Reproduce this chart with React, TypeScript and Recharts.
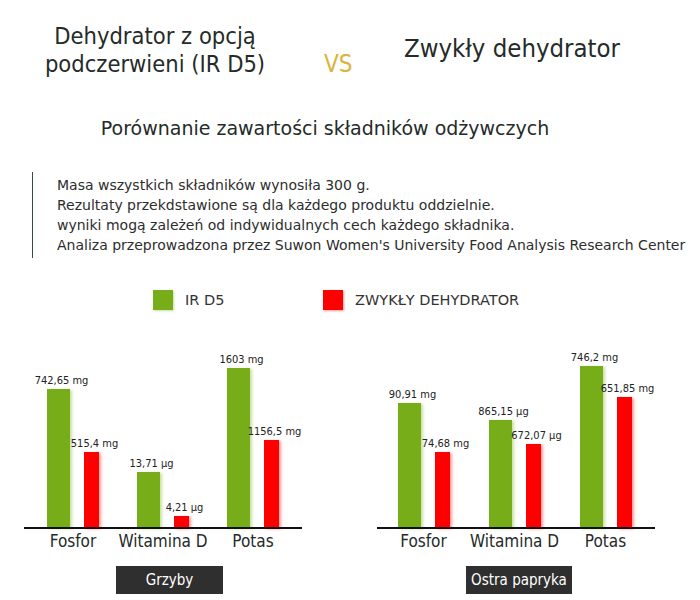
import React from 'react'
import { BarChart, Bar, XAxis, YAxis, LabelList } from 'recharts'

const GREEN = '#78ad1a'
const RED = '#ff0000'
const TEXT = '#252b28'
const NARROW = "'DejaVu Sans Condensed', 'DejaVu Sans', sans-serif"
const WIDE = "'DejaVu Sans', sans-serif"

const categories = ['Fosfor', 'Witamina D', 'Potas']

// printed values
const grzybyIrLabels = ['742,65 mg', '13,71 μg', '1603 mg']
const grzybyStdLabels = ['515,4 mg', '4,21 μg', '1156,5 mg']
const paprykaIrLabels = ['90,91 mg', '865,15 μg', '746,2 mg']
const paprykaStdLabels = ['74,68 mg', '672,07 μg', '651,85 mg']

// the source draws bars per nutrient, not on one value scale: these are the visible bar heights
const grzybyIrBars = [139, 56, 160]
const grzybyStdBars = [76, 12, 88]
const paprykaIrBars = [125, 108, 162]
const paprykaStdBars = [76, 84, 131]

const notes = [
  'Masa wszystkich składników wynosiła 300 g.',
  'Rezultaty przekdstawione są dla każdego produktu oddzielnie.',
  'wyniki mogą zależeń od indywidualnych cech każdego składnika.',
  "Analiza przeprowadzona przez Suwon Women's University Food Analysis Research Center",
]

function buildRows(ir: number[], std: number[], irLbl: string[], stdLbl: string[]) {
  return categories.map((name, i) => ({
    name,
    ir: ir[i],
    std: std[i],
    irLabel: irLbl[i],
    stdLabel: stdLbl[i],
  }))
}

const BarShape = (props: any) => {
  const { x, y, width, height, fill } = props
  return (
    <rect
      x={x}
      y={y}
      width={width}
      height={height}
      fill={fill}
      style={{ filter: `drop-shadow(2px 1px 1.5px ${fill}66)` }}
    />
  )
}

const ValueLabel = (props: any) => {
  const { x, y, width, value } = props
  return (
    <text
      x={x + width / 2 + 3}
      y={y - 5}
      textAnchor="middle"
      fontSize={11}
      fontFamily={NARROW}
      fill="#222"
    >
      {value}
    </text>
  )
}

function Panel({ rows, left, padL, padR }: { rows: any[]; left: number; padL: number; padR: number }) {
  return (
    <div style={{ position: 'absolute', left: 0, top: 320 }}>
      <BarChart
        width={350}
        height={240}
        data={rows}
        margin={{ top: 38, right: 350 - 278 - left, bottom: 2, left }}
        barGap={14}
        barCategoryGap={0}
      >
        <XAxis
          dataKey="name"
          padding={{ left: padL, right: padR }}
          axisLine={{ stroke: '#111', strokeWidth: 2 }}
          tickLine={false}
          tickSize={0}
          tickMargin={7}
          height={30}
          interval={0}
          tick={{ fill: TEXT, fontSize: 17, fontFamily: NARROW }}
        />
        <YAxis hide domain={[0, 170]} />
        <Bar dataKey="ir" fill={GREEN} barSize={23} shape={BarShape} isAnimationActive={false}>
          <LabelList dataKey="irLabel" content={ValueLabel} />
        </Bar>
        <Bar dataKey="std" fill={RED} barSize={15} shape={BarShape} isAnimationActive={false}>
          <LabelList dataKey="stdLabel" content={ValueLabel} />
        </Bar>
      </BarChart>
    </div>
  )
}

const abs = (s: React.CSSProperties): React.CSSProperties => ({
  position: 'absolute',
  whiteSpace: 'nowrap',
  lineHeight: 1,
  fontFamily: NARROW,
  color: TEXT,
  ...s,
})

export default function App() {
  const grzyby = buildRows(grzybyIrBars, grzybyStdBars, grzybyIrLabels, grzybyStdLabels)
  const papryka = buildRows(paprykaIrBars, paprykaStdBars, paprykaIrLabels, paprykaStdLabels)

  return (
    <div style={{ position: 'absolute', left: 0, top: 0, width: 700, height: 600, background: '#fff', overflow: 'hidden' }}>
      <div style={abs({ left: 20, width: 270, top: 25, fontSize: 23.5, textAlign: 'center' })}>
        Dehydrator z opcją
      </div>
      <div style={abs({ left: 20, width: 270, top: 52.5, fontSize: 23.5, textAlign: 'center' })}>
        podczerwieni (IR D5)
      </div>
      <div style={abs({ left: 324, top: 52, fontSize: 24, color: '#dbb43e' })}>VS</div>
      <div style={abs({ left: 404, top: 36, fontSize: 25.5 })}>Zwykły dehydrator</div>

      <div style={abs({ left: 0, width: 650, top: 119, fontSize: 19, textAlign: 'center', fontFamily: WIDE })}>
        Porównanie zawartości składników odżywczych
      </div>

      <div style={{ position: 'absolute', left: 32, top: 172, width: 1, height: 86, background: '#3a4a44' }} />
      {notes.map((n, i) => (
        <div key={i} style={abs({ left: 57, top: 178 + i * 20, fontSize: 14, color: '#2d2d2d', fontFamily: WIDE })}>
          {n}
        </div>
      ))}

      <div style={{ position: 'absolute', left: 153, top: 290, width: 20, height: 20, background: GREEN, boxShadow: '1px 1px 2px rgba(120,173,26,0.4)' }} />
      <div style={abs({ left: 185, top: 293, fontSize: 14.5, color: '#333', fontFamily: WIDE })}>IR D5</div>
      <div style={{ position: 'absolute', left: 323, top: 290, width: 20, height: 20, background: RED, boxShadow: '1px 1px 2px rgba(255,0,0,0.4)' }} />
      <div style={abs({ left: 355, top: 293, fontSize: 14.5, color: '#333', fontFamily: WIDE })}>ZWYKŁY DEHYDRATOR</div>

      <Panel rows={grzyby} left={24} padL={4} padR={4} />
      <div style={{ position: 'absolute', left: 350, top: 0 }}>
        <Panel rows={papryka} left={27} padL={1} padR={4} />
      </div>

      <div style={abs({ left: 116, top: 566, width: 107, height: 28, background: '#2f2f2f', color: '#fff', fontSize: 15, lineHeight: '28px', textAlign: 'center' })}>
        Grzyby
      </div>
      <div style={abs({ left: 466, top: 566, width: 106, height: 28, background: '#2f2f2f', color: '#fff', fontSize: 15, lineHeight: '28px', textAlign: 'center' })}>
        Ostra papryka
      </div>
    </div>
  )
}
